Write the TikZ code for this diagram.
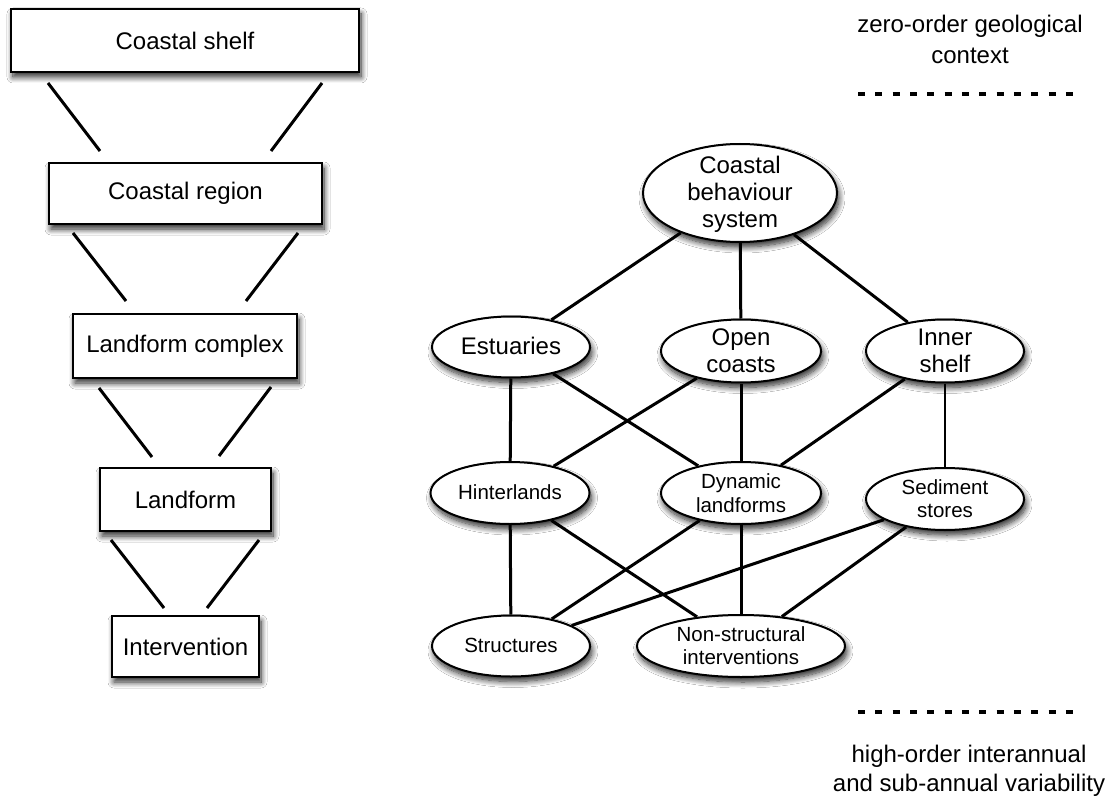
\documentclass[tikz,border=0pt]{standalone}
\usepackage{fontspec}
\setmainfont{Liberation Sans}
\usetikzlibrary{shapes.geometric,shadows.blur}
\begin{document}
\begin{tikzpicture}[x=1pt,y=-1pt,
  shad/.style={blur shadow={shadow xshift=2pt,shadow yshift=-5pt,shadow blur radius=6pt,shadow blur steps=10,shadow opacity=85}},
  box/.style={draw=black,line width=2pt,fill=white,shad,rectangle,inner sep=0pt,font=\fontsize{24}{28}\selectfont},
  ell/.style={draw=black,line width=2pt,fill=white,shad,ellipse,inner sep=0pt},
  bigtxt/.style={align=center,inner sep=0pt,font=\fontsize{24}{27}\selectfont},
  smalltxt/.style={align=center,inner sep=0pt,font=\fontsize{20.5}{23.5}\selectfont},
  link/.style={line width=3pt},
  thinlink/.style={line width=1.2pt},
  sepline/.style={line width=3.2pt,dash pattern=on 7pt off 10.33pt},
  note/.style={align=center,inner sep=0pt,anchor=north}]
\useasboundingbox (0,0) rectangle (1115,799);
\fill[white] (0,0) rectangle (1115,799);

% ---- left hierarchy ----
\node[box,minimum width=348pt,minimum height=63pt] (shelf) at (185,40.5) {Coastal shelf};
\node[box,minimum width=273pt,minimum height=61pt] (region) at (185.5,193.5) {Coastal region};
\node[box,minimum width=224pt,minimum height=64pt] (complex) at (185,346) {Landform complex};
\node[box,minimum width=171pt,minimum height=63pt] (landform) at (185.5,499.5) {Landform};
\node[box,minimum width=147pt,minimum height=61pt] (interv) at (185.5,646.5) {Intervention};

\coordinate (a1) at (48,83);  \coordinate (a2) at (100,151);
\coordinate (a3) at (322,83); \coordinate (a4) at (271,151);
\coordinate (b1) at (73,233);  \coordinate (b2) at (126,301);
\coordinate (b3) at (298,233); \coordinate (b4) at (246,301);
\coordinate (c1) at (99,388);  \coordinate (c2) at (152,457);
\coordinate (c3) at (271,387); \coordinate (c4) at (219,456);
\coordinate (d1) at (111,540); \coordinate (d2) at (164,608);
\coordinate (d3) at (259,540); \coordinate (d4) at (207,608);
\draw[link] (a1) -- (a2); \draw[link] (a3) -- (a4);
\draw[link] (b1) -- (b2); \draw[link] (b3) -- (b4);
\draw[link] (c1) -- (c2); \draw[link] (c3) -- (c4);
\draw[link] (d1) -- (d2); \draw[link] (d3) -- (d4);

% ---- right network ----
\node[ell,minimum width=194pt,minimum height=98pt] (cbs) at (740,193) {};
\node[ell,minimum width=158pt,minimum height=61pt] (est) at (511,347) {};
\node[ell,minimum width=160pt,minimum height=63pt] (open) at (741,351) {};
\node[ell,minimum width=158pt,minimum height=63pt] (inner) at (945,351) {};
\node[ell,minimum width=159pt,minimum height=62pt] (hint) at (510,493) {};
\node[ell,minimum width=160pt,minimum height=62pt] (dyn) at (741,493) {};
\node[ell,minimum width=158pt,minimum height=62pt] (sed) at (945,499) {};
\node[ell,minimum width=158pt,minimum height=61pt] (struc) at (511,646) {};
\node[ell,minimum width=208pt,minimum height=62pt] (nonst) at (741,646) {};

\node[bigtxt] (cbs-t) at (740,194.5) {Coastal\\behaviour\\system};
\node[bigtxt] (est-t) at (511,346) {Estuaries};
\node[bigtxt] (open-t) at (741,351) {Open\\coasts};
\node[bigtxt] (inner-t) at (945,351) {Inner\\shelf};
\node[smalltxt] (hint-t) at (510,492.5) {Hinterlands};
\node[smalltxt] (dyn-t) at (741,493) {Dynamic\\landforms};
\node[smalltxt] (sed-t) at (945,498.5) {Sediment\\stores};
\node[smalltxt] (struc-t) at (511,645.5) {Structures};
\node[smalltxt] (nonst-t) at (741,645.5) {Non-structural\\interventions};

\draw[link] (cbs) -- (est);
\draw[link] (cbs) -- (open);
\draw[link] (cbs) -- (inner);
\draw[link] (est) -- (hint);
\draw[link] (est) -- (dyn);
\draw[link] (open) -- (hint);
\draw[link] (open) -- (dyn);
\draw[link] (inner) -- (dyn);
\draw[thinlink] (inner) -- (sed);
\draw[link] (hint) -- (struc);
\draw[link] (hint) -- (nonst);
\draw[link] (dyn) -- (struc);
\draw[link] (dyn) -- (nonst);
\draw[link] (sed) -- (struc);
\draw[link] (sed) -- (nonst);

% ---- scale notes ----
\node[note,font=\fontsize{24}{31}\selectfont] (top-note) at (970,14.8) {zero-order geological\\context};
\coordinate (s1) at (858,94); \coordinate (s2) at (1078,94);
\draw[sepline] (s1) -- (s2);
\coordinate (t1) at (858,712); \coordinate (t2) at (1078,712);
\draw[sepline] (t1) -- (t2);
\node[note,font=\fontsize{24}{29}\selectfont] (bot-note) at (969,744.5) {high-order interannual\\and sub-annual variability};
\end{tikzpicture}
\end{document}
